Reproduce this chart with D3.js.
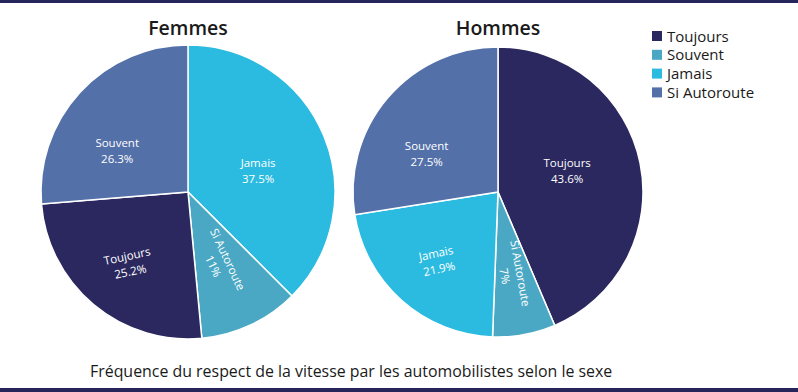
<!DOCTYPE html>
<html><head><meta charset="utf-8">
<script src="https://cdn.jsdelivr.net/npm/d3@7/dist/d3.min.js"></script>
<style>body{margin:0;background:#fff}svg{display:block}</style></head>
<body><svg id="c" width="798" height="392"></svg>
<script>
// ---- data ----
const categories = ["Toujours", "Souvent", "Jamais", "Si Autoroute"];
const palette = ["#2a285e", "#4aa8c4", "#2bbbe0", "#5470a9"];
const sliceCategoryOrder = ["Toujours", "Si Autoroute", "Jamais", "Souvent"];
const femmesLabels = ["Jamais", "Si Autoroute", "Toujours", "Souvent"];
const femmesValues = [37.5, 11, 25.2, 26.3];
const hommesLabels = ["Toujours", "Si Autoroute", "Jamais", "Souvent"];
const hommesValues = [43.6, 7, 21.9, 27.5];
const chartTitles = ["Femmes", "Hommes"];
const caption = "Fréquence du respect de la vitesse par les automobilistes selon le sexe";

// ---- drawing ----
const FONT = "'Open Sans', 'DejaVu Sans', sans-serif";
const svg = d3.select("#c");
const W = 798, H = 392;
const navy = "#25255a";

svg.append("rect").attr("x", 0).attr("y", 0).attr("width", W).attr("height", 3).attr("fill", navy);
svg.append("rect").attr("x", 0).attr("y", H - 4).attr("width", W).attr("height", 4).attr("fill", navy);

const sliceColor = d3.scaleOrdinal().domain(sliceCategoryOrder).range(palette);
const legendColor = d3.scaleOrdinal().domain(categories).range(palette);

const xPos = d3.scalePoint().domain(chartTitles).range([188, 498]);
const cy = 192;
const radii = {Femmes: 147, Hommes: 145};

const charts = [
  {title: "Femmes", labels: femmesLabels, values: femmesValues},
  {title: "Hommes", labels: hommesLabels, values: hommesValues}
];

const pie = d3.pie().sort(null).value(d => d.value);

charts.forEach(ch => {
  const cx = xPos(ch.title);
  const r = radii[ch.title];
  const data = ch.labels.map((l, i) => ({label: l, value: ch.values[i]}));
  const g = svg.append("g").attr("transform", `translate(${cx},${cy})`);
  const arc = d3.arc().innerRadius(0).outerRadius(r);
  const arcs = pie(data);
  g.selectAll("path").data(arcs).join("path")
    .attr("d", arc)
    .attr("fill", d => sliceColor(d.data.label))
    .attr("stroke", "#fff").attr("stroke-width", 1.5);

  arcs.forEach(a => {
    const mid = (a.startAngle + a.endAngle) / 2;
    const midDeg = mid * 180 / Math.PI;
    let rot = 0, f = 0.5;
    if (a.data.value < 15) { rot = midDeg - 90; f = a.data.value < 10 ? 0.58 : 0.53; }
    else if (midDeg > 180 && midDeg < 270) { rot = -12; f = 0.63; }
    else if (midDeg >= 270) { f = 0.56; }
    let ang = mid;
    if (midDeg >= 270) ang = mid - 12 * Math.PI / 180;
    else if (midDeg < 90 && a.data.value > 40) ang = mid - 6 * Math.PI / 180;
    else if (midDeg < 90) ang = mid + 5 * Math.PI / 180;
    const x = Math.sin(ang) * r * f, y = -Math.cos(ang) * r * f;
    const t = g.append("g")
      .attr("transform", `translate(${x},${y}) rotate(${rot})`)
      .attr("text-anchor", "middle")
      .attr("font-family", FONT).attr("font-size", 11.5).attr("font-weight", 500)
      .attr("fill", "#fff");
    t.append("text").attr("x", 0).attr("y", -3).text(a.data.label);
    t.append("text").attr("x", 0).attr("y", 12.8).text(d3.format("")(a.data.value) + "%");
  });

  svg.append("text").attr("x", cx).attr("y", 35)
    .attr("text-anchor", "middle").attr("font-family", FONT)
    .attr("font-size", 19.5).attr("font-weight", 600).attr("fill", "#1a1a1a")
    .text(ch.title);
});

// legend
const lg = svg.append("g").attr("transform", "translate(652,31)");
categories.forEach((c, i) => {
  const row = lg.append("g").attr("transform", `translate(0,${i * 18.8})`);
  row.append("rect").attr("width", 10).attr("height", 10).attr("fill", legendColor(c));
  row.append("text").attr("x", 15).attr("y", 10.5)
    .attr("font-family", FONT).attr("font-size", 15).attr("fill", "#1a1a1a").text(c);
});

// caption
const cap = svg.append("text").attr("x", 90).attr("y", 377)
  .attr("font-family", FONT).attr("font-size", 15).attr("font-weight", 500)
  .attr("fill", "#1a1a1a").text(caption);
const wcap = cap.node().getComputedTextLength();
cap.attr("font-size", 15 * 523 / wcap);
</script></body></html>
